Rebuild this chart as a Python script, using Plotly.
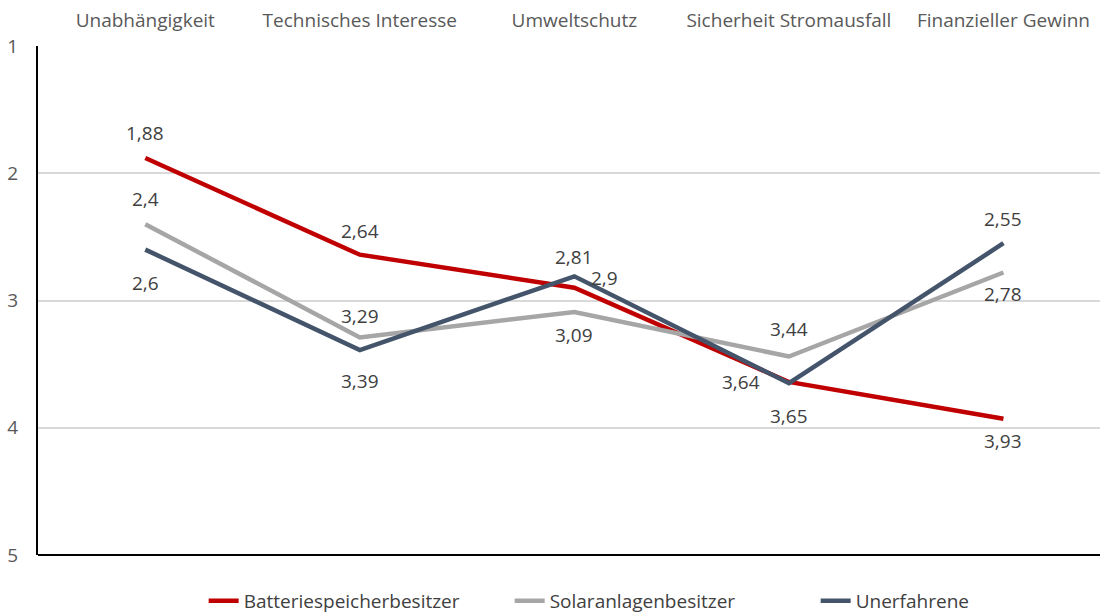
import plotly.graph_objects as go

# Daten
kategorien = ["Unabhängigkeit", "Technisches Interesse", "Umweltschutz",
              "Sicherheit Stromausfall", "Finanzieller Gewinn"]
batterie = [1.88, 2.64, 2.9, 3.64, 3.93]
solar = [2.4, 3.29, 3.09, 3.44, 2.78]
unerfahren = [2.6, 3.39, 2.81, 3.65, 2.55]

serien = [
    ("Batteriespeicherbesitzer", batterie, "#C00000"),
    ("Solaranlagenbesitzer", solar, "#A6A6A6"),
    ("Unerfahrene", unerfahren, "#44546A"),
]

# Label-Versatz (xshift, yshift) je Punkt
versatz = {
    "Batteriespeicherbesitzer": [(0, 25), (0, 24), (30, 10), (-48, 0), (0, -22)],
    "Solaranlagenbesitzer": [(0, 25), (0, 21), (0, -23), (0, 27), (0, -21)],
    "Unerfahrene": [(0, -33), (0, -31), (0, 19), (0, -33), (0, 24)],
}

TEXT_FONT = "Open Sans, Lato, sans-serif"

fig = go.Figure()
for name, werte, farbe in serien:
    fig.add_trace(go.Scatter(
        x=kategorien, y=werte, name=name, mode="lines",
        line=dict(color=farbe, width=4.5),
    ))

annotations = []
for name, werte, _ in serien:
    for k, w, (dx, dy) in zip(kategorien, werte, versatz[name]):
        annotations.append(dict(
            x=k, y=w, text=f"{w:g}".replace(".", ","), showarrow=False,
            xshift=dx, yshift=dy,
            font=dict(size=19, color="#404040", family=TEXT_FONT),
        ))

fig.update_layout(
    width=1100, height=615,
    margin=dict(l=38, r=0, t=46, b=60, autoexpand=False),
    paper_bgcolor="white", plot_bgcolor="white",
    font=dict(family=TEXT_FONT, color="#595959", size=17),
    annotations=annotations,
    showlegend=True,
    legend=dict(orientation="h", x=0.156, xanchor="left", y=-0.09, yanchor="middle",
                entrywidth=261, entrywidthmode="pixels",
                font=dict(size=19, color="#404040")),
    xaxis=dict(side="top", range=[-0.5, 4.45], showgrid=False, showline=False,
               ticks="", automargin=False, ticklabelstandoff=14,
               tickfont=dict(size=19, color="#595959")),
    yaxis=dict(range=[5, 1], tickvals=[1, 2, 3, 4, 5], showgrid=True,
               gridcolor="#D9D9D9", gridwidth=2, zeroline=False,
               showline=True, linecolor="black", linewidth=2,
               ticks="", ticklabelstandoff=14, automargin=False,
               tickfont=dict(size=19, color="#595959")),
    shapes=[dict(type="line", xref="paper", yref="paper", x0=0, x1=1, y0=0, y1=0,
                 line=dict(color="black", width=2))],
)

# Seitenrand entfernen, damit die Grafik genau ins Fenster passt
fig.write_html(
    "out.html",
    config={"displayModeBar": False},
    post_script="document.body.style.margin='0';document.body.style.overflow='hidden';",
)
